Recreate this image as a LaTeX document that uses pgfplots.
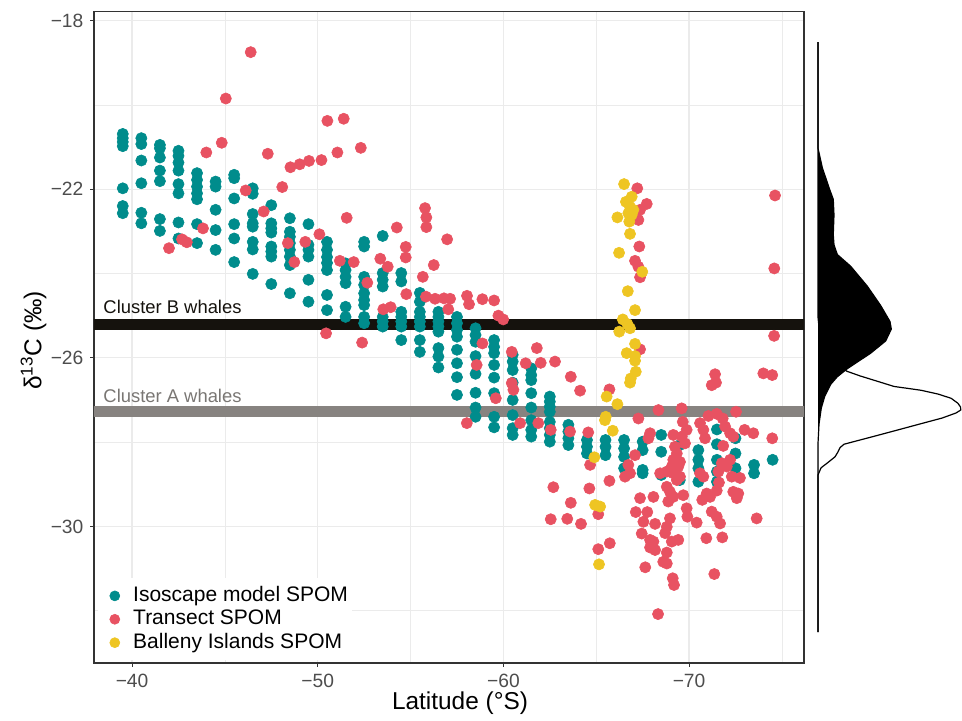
\documentclass[border=0pt]{standalone}
\usepackage{fontspec}
\setmainfont{Liberation Sans}
\usepackage{pgfplots}
\usepackage{pgfplotstable}
\pgfplotsset{compat=1.18}
\usetikzlibrary{calc}
\definecolor{teal1}{RGB}{0,140,140}
\definecolor{red1}{RGB}{232,82,98}
\definecolor{yel1}{RGB}{238,197,35}
\definecolor{clB}{RGB}{21,18,13}
\definecolor{clA}{RGB}{135,131,128}
\definecolor{gridc}{RGB}{235,235,235}
\definecolor{tickc}{RGB}{77,77,77}
\definecolor{framec}{RGB}{51,51,51}

\pgfplotstableread{
lat d
-39.5 -20.69
-39.5 -20.79
-39.5 -20.88
-39.5 -20.98
-39.5 -21.98
-39.5 -22.40
-39.5 -22.57
-40.5 -20.79
-40.5 -20.93
-40.5 -21.32
-40.5 -21.86
-40.5 -22.56
-40.5 -22.81
-41.5 -20.95
-41.5 -21.03
-41.5 -21.25
-41.5 -21.56
-41.5 -21.81
-41.5 -22.71
-41.5 -22.99
-42.5 -21.09
-42.5 -21.21
-42.5 -21.37
-42.5 -21.56
-42.5 -21.88
-42.5 -22.10
-42.5 -22.79
-42.5 -23.17
-43.5 -21.62
-43.5 -21.78
-43.5 -21.94
-43.5 -22.10
-43.5 -22.24
-43.5 -22.83
-43.5 -23.28
-44.5 -21.82
-44.5 -21.94
-44.5 -22.49
-44.5 -22.97
-44.5 -23.44
-45.5 -21.66
-45.5 -21.74
-45.5 -22.22
-45.5 -22.83
-45.5 -23.17
-45.5 -23.73
-46.5 -21.98
-46.5 -22.11
-46.5 -22.59
-46.5 -22.81
-46.5 -22.89
-46.5 -23.25
-46.5 -23.43
-46.5 -24.01
-47.5 -22.38
-47.5 -22.81
-47.5 -22.93
-47.5 -23.03
-47.5 -23.36
-47.5 -23.48
-47.5 -23.60
-47.5 -24.25
-48.5 -22.69
-48.5 -23.01
-48.5 -23.13
-48.5 -23.28
-48.5 -23.44
-48.5 -23.60
-48.5 -23.80
-48.5 -24.47
-49.5 -22.83
-49.5 -23.32
-49.5 -23.44
-49.5 -23.60
-49.5 -24.15
-49.5 -24.67
-50.5 -23.25
-50.5 -23.44
-50.5 -23.61
-50.5 -23.75
-50.5 -23.92
-50.5 -24.51
-50.5 -24.87
-51.5 -23.76
-51.5 -23.92
-51.5 -24.08
-51.5 -24.23
-51.5 -24.79
-51.5 -25.03
-52.5 -23.25
-52.5 -23.36
-52.5 -24.08
-52.5 -24.27
-52.5 -24.47
-52.5 -24.63
-52.5 -24.75
-52.5 -25.03
-52.5 -25.18
-53.5 -23.11
-53.5 -23.99
-53.5 -24.15
-53.5 -24.31
-53.5 -25.03
-53.5 -25.14
-53.5 -25.26
-54.5 -23.99
-54.5 -24.19
-54.5 -24.91
-54.5 -25.03
-54.5 -25.14
-54.5 -25.26
-54.5 -25.58
-55.5 -24.46
-55.5 -24.67
-55.5 -24.91
-55.5 -25.03
-55.5 -25.14
-55.5 -25.26
-55.5 -25.58
-55.5 -25.86
-56.5 -24.91
-56.5 -25.03
-56.5 -25.14
-56.5 -25.26
-56.5 -25.38
-56.5 -25.77
-56.5 -25.97
-56.5 -26.23
-57.5 -25.03
-57.5 -25.18
-57.5 -25.34
-57.5 -25.50
-57.5 -25.81
-57.5 -26.13
-57.5 -26.46
-57.5 -26.88
-58.5 -25.30
-58.5 -25.46
-58.5 -25.62
-58.5 -25.96
-58.5 -26.38
-58.5 -26.83
-58.5 -27.18
-58.5 -27.40
-59.5 -25.58
-59.5 -25.74
-59.5 -25.89
-59.5 -26.17
-59.5 -26.47
-59.5 -26.84
-59.5 -27.40
-59.5 -27.65
-60.5 -25.93
-60.5 -26.09
-60.5 -26.29
-60.5 -26.59
-60.5 -27.00
-60.5 -27.36
-60.5 -27.67
-60.5 -27.83
-61.5 -26.25
-61.5 -26.41
-61.5 -26.53
-61.5 -26.84
-61.5 -27.18
-61.5 -27.48
-61.5 -27.71
-61.5 -27.87
-62.5 -26.92
-62.5 -27.04
-62.5 -27.16
-62.5 -27.28
-62.5 -27.52
-62.5 -27.67
-62.5 -27.83
-62.5 -27.99
-63.5 -27.59
-63.5 -27.75
-63.5 -27.91
-63.5 -28.07
-64.5 -27.95
-64.5 -28.11
-64.5 -28.27
-65.5 -27.95
-65.5 -28.11
-65.5 -28.31
-66.5 -27.95
-66.5 -28.15
-66.5 -28.35
-66.5 -28.62
-67.5 -27.99
-67.5 -28.19
-67.5 -28.66
-67.5 -28.74
-68.5 -27.83
-68.5 -28.23
-68.5 -28.78
-69.5 -28.07
-69.5 -28.90
-70.5 -28.19
-70.5 -28.42
-70.5 -28.62
-70.5 -28.94
-71.5 -27.70
-71.5 -28.05
-71.5 -28.42
-71.5 -28.70
-71.5 -28.94
-72.5 -27.91
-72.5 -28.27
-72.5 -28.62
-73.5 -28.54
-73.5 -28.74
-74.5 -28.42
}\isoscape

\pgfplotstableread{
lat d
-46.39 -18.75
-45.05 -19.85
-50.52 -20.38
-51.40 -20.33
-44.83 -20.90
-44.00 -21.13
-47.31 -21.16
-48.53 -21.48
-49.03 -21.41
-49.53 -21.33
-50.20 -21.31
-51.06 -21.13
-52.32 -21.02
-48.09 -21.95
-46.12 -22.03
-47.09 -22.53
-43.82 -22.93
-50.09 -23.07
-48.39 -23.28
-49.33 -23.25
-42.69 -23.19
-42.95 -23.26
-41.99 -23.40
-48.74 -23.73
-50.45 -25.42
-51.56 -22.68
-55.78 -22.45
-55.85 -22.67
-55.85 -22.90
-54.26 -22.91
-56.97 -23.19
-54.74 -23.37
-54.74 -23.62
-51.19 -23.70
-51.94 -23.73
-53.37 -23.65
-53.77 -23.84
-56.25 -23.80
-55.66 -24.08
-52.67 -24.22
-54.77 -24.49
-55.83 -24.55
-56.32 -24.60
-56.80 -24.59
-57.13 -24.60
-58.04 -24.53
-58.87 -24.61
-59.50 -24.64
-57.03 -24.85
-53.53 -24.85
-53.93 -24.80
-58.15 -24.73
-59.73 -25.00
-59.99 -25.09
-52.39 -25.64
-58.87 -25.66
-60.45 -25.86
-61.80 -25.77
-61.20 -26.13
-62.01 -26.12
-62.78 -26.09
-58.56 -26.17
-60.45 -26.60
-60.54 -26.76
-59.59 -26.96
-58.03 -27.55
-60.90 -27.55
-61.88 -27.55
-62.55 -27.71
-67.21 -21.98
-67.72 -22.35
-67.36 -22.49
-67.27 -22.73
-74.63 -22.15
-67.32 -23.36
-67.09 -23.70
-67.27 -23.84
-67.36 -24.09
-74.59 -23.88
-74.58 -25.48
-67.36 -25.80
-63.63 -26.45
-64.13 -26.78
-65.71 -26.75
-71.40 -26.39
-71.22 -26.65
-71.45 -26.59
-74.00 -26.37
-74.48 -26.41
-68.35 -27.24
-69.60 -27.20
-72.53 -27.28
-67.27 -27.44
-63.59 -27.75
-64.57 -27.77
-71.04 -27.38
-71.49 -27.33
-71.81 -27.44
-71.94 -27.63
-72.21 -27.79
-72.38 -27.87
-70.59 -27.55
-70.77 -27.71
-70.86 -27.91
-69.66 -27.52
-69.87 -27.71
-69.61 -27.87
-69.78 -28.03
-72.99 -27.71
-73.46 -27.79
-74.48 -27.91
-67.90 -27.79
-67.81 -27.91
-69.15 -27.83
-71.84 -28.09
-67.09 -28.31
-69.24 -28.11
-69.34 -28.27
-69.15 -28.42
-69.51 -28.47
-69.42 -28.58
-69.07 -28.58
-68.80 -28.70
-69.15 -28.74
-69.51 -28.82
-69.34 -28.90
-64.67 -28.54
-66.73 -28.54
-66.82 -28.74
-66.55 -28.82
-68.44 -28.74
-70.59 -28.74
-70.77 -28.82
-71.76 -28.50
-72.03 -28.58
-72.21 -28.42
-71.58 -28.70
-72.30 -28.82
-72.74 -28.85
-62.69 -29.07
-64.63 -29.10
-65.71 -28.92
-67.36 -29.33
-68.08 -29.30
-69.69 -29.26
-70.95 -29.22
-71.13 -29.30
-72.38 -29.18
-72.65 -29.22
-63.63 -29.44
-62.55 -29.83
-63.44 -29.82
-64.18 -29.94
-65.11 -29.71
-65.11 -30.54
-65.73 -30.40
-67.13 -29.66
-67.75 -29.66
-67.54 -29.89
-68.17 -29.94
-67.45 -30.17
-67.90 -30.32
-68.08 -30.36
-67.90 -30.50
-68.17 -30.56
-67.64 -30.97
-68.80 -29.06
-68.97 -29.18
-69.15 -29.30
-68.88 -29.41
-69.87 -29.57
-69.91 -29.77
-68.97 -29.81
-68.80 -30.01
-68.71 -30.16
-69.07 -30.36
-69.42 -30.32
-68.80 -30.62
-68.61 -30.84
-68.80 -30.88
-69.12 -31.23
-69.19 -31.39
-68.33 -32.08
-70.41 -29.91
-70.71 -29.37
-71.49 -29.15
-71.22 -29.65
-71.49 -29.77
-71.67 -29.93
-70.93 -30.28
-71.79 -30.26
-71.36 -31.13
-72.57 -29.33
-73.64 -29.81
-71.61 -28.96
}\transect

\pgfplotstableread{
lat d
-66.50 -21.88
-66.91 -22.18
-66.60 -22.30
-66.82 -22.42
-67.00 -22.49
-66.73 -22.57
-66.91 -22.61
-66.14 -22.67
-66.78 -22.77
-66.82 -23.06
-66.23 -23.51
-67.48 -23.96
-66.70 -24.42
-67.09 -24.87
-66.43 -25.09
-66.68 -25.20
-66.24 -25.38
-66.82 -25.30
-67.09 -25.67
-66.64 -25.89
-67.09 -25.96
-67.09 -26.07
-67.13 -26.33
-66.86 -26.49
-66.82 -26.59
-65.56 -26.92
-66.14 -27.10
-65.51 -27.40
-65.47 -27.48
-65.89 -27.73
-64.90 -28.36
-64.94 -29.49
-65.21 -29.53
-65.15 -30.90
}\balleny

\begin{document}
\begin{tikzpicture}
\begin{axis}[
  scale only axis, width=355pt, height=325.65pt,
  x dir=reverse, xmin=-76.19, xmax=-37.95, ymin=-33.24, ymax=-17.79,
  xtick={-70,-60,-50,-40}, xticklabels={−70,−60,−50,−40},
  minor xtick={-75,-65,-55,-45},
  ytick={-30,-26,-22,-18}, yticklabels={−30,−26,−22,−18},
  minor ytick={-32,-28,-24,-20},
  grid=both,
  major grid style={draw=gridc, line width=0.6pt},
  minor grid style={draw=gridc, line width=0.35pt},
  axis line style={draw=framec, line width=0.6pt},
  tick pos=left, tick align=outside,
  major tick length=1.8pt, minor tick length=0pt,
  major tick style={draw=framec, line width=0.5pt},
  minor tick style={draw=none},
  tick label style={font=\fontsize{9.6}{11}\selectfont, text=tickc},
  xlabel={Latitude (°S)},
  ylabel={δ\textsuperscript{13}C (‰)},
  label style={font=\fontsize{12.2}{14}\selectfont},
  xlabel style={at={(axis description cs:0.5155,-0.0614)}, anchor=center},
  ylabel style={at={(axis description cs:-0.085,0.495)}, anchor=center},
  legend cell align=left,
  legend style={at={(axis description cs:0.0048,0.0034)}, anchor=south west,
    draw=none, fill=white, font=\fontsize{10.5}{12}\selectfont,
    row sep=0pt, inner xsep=1.5pt, inner ysep=3pt,
    nodes={text height=8.1pt, text depth=2.4pt, inner sep=0.6pt}},
  legend image code/.code={\path[draw=none, fill=none] (0pt,-3pt) rectangle (15.6pt,3pt);
    \draw[#1, mark size=2.5pt] plot coordinates {(7pt,0pt)};},
  clip=true,
]
\coordinate (mainSW) at (rel axis cs:0,0);
\coordinate (mainNE) at (rel axis cs:1,1);
\coordinate (mainSE) at (rel axis cs:1,0);
\addplot[forget plot, clB, line width=5.35pt] coordinates {(-30,-25.21) (-80,-25.21)};
\addplot[forget plot, clA, line width=5.35pt] coordinates {(-30,-27.27) (-80,-27.27)};
\node[anchor=base west, font=\fontsize{9.2}{11}\selectfont, text=clB, inner sep=0pt] at (axis cs:-38.44,-24.94) {Cluster B whales};
\node[anchor=base west, font=\fontsize{9.2}{11}\selectfont, text=clA!90!black, inner sep=0pt] at (axis cs:-38.44,-27.06) {Cluster A whales};
\addplot[only marks, mark=*, mark size=2.8pt, color=teal1, line width=0.3pt] table[x=lat, y=d] {\isoscape};
\addlegendentry{Isoscape model SPOM}
\addplot[only marks, mark=*, mark size=2.8pt, color=red1, line width=0.3pt] table[x=lat, y=d] {\transect};
\addlegendentry{Transect SPOM}
\addplot[only marks, mark=*, mark size=2.8pt, color=yel1, line width=0.3pt] table[x=lat, y=d] {\balleny};
\addlegendentry{Balleny Islands SPOM}
\end{axis}

\begin{axis}[
  at={($(mainSE)+(7pt,0)$)}, anchor=south west,
  scale only axis, width=72pt, height=325.65pt,
  xmin=0, xmax=1, ymin=-33.24, ymax=-17.79,
  hide axis, clip=false,
]
% Cluster A density (white)
\addplot[draw=black, fill=white, line width=0.6pt] coordinates {
(0,-18.51) (0,-25.04) (0.014,-25.51) (0.056,-25.89) (0.132,-26.17) (0.201,-26.32)
(0.292,-26.43) (0.396,-26.54) (0.528,-26.68) (0.715,-26.77) (0.833,-26.86)
(0.924,-26.96) (0.972,-27.08) (0.990,-27.17) (0.991,-27.24) (0.958,-27.31)
(0.861,-27.43) (0.708,-27.57) (0.556,-27.71) (0.403,-27.85) (0.292,-27.95)
(0.181,-28.05) (0.153,-28.13) (0.139,-28.23) (0.118,-28.35) (0.063,-28.50)
(0.021,-28.61) (0,-28.78) (0,-32.51)};
% Cluster B density (black)
\addplot[draw=black, fill=black, line width=0.6pt] coordinates {
(0,-18.51) (0,-21.03) (0.030,-21.49) (0.076,-21.96) (0.106,-22.24) (0.111,-22.61)
(0.106,-23.08) (0.111,-23.32) (0.134,-23.55) (0.227,-23.83) (0.342,-24.30)
(0.435,-24.76) (0.500,-25.14) (0.509,-25.32) (0.470,-25.60) (0.366,-25.89)
(0.203,-26.26) (0.134,-26.45) (0.088,-26.63) (0.047,-26.91) (0.023,-27.19)
(0.007,-27.57) (0,-28.03) (0,-32.51)};
\end{axis}
\pgfresetboundingbox
\path ($(mainSW)+(-47pt,-29pt)$) rectangle ($(mainNE)+(79pt,5.85pt)$);
\end{tikzpicture}
\end{document}
